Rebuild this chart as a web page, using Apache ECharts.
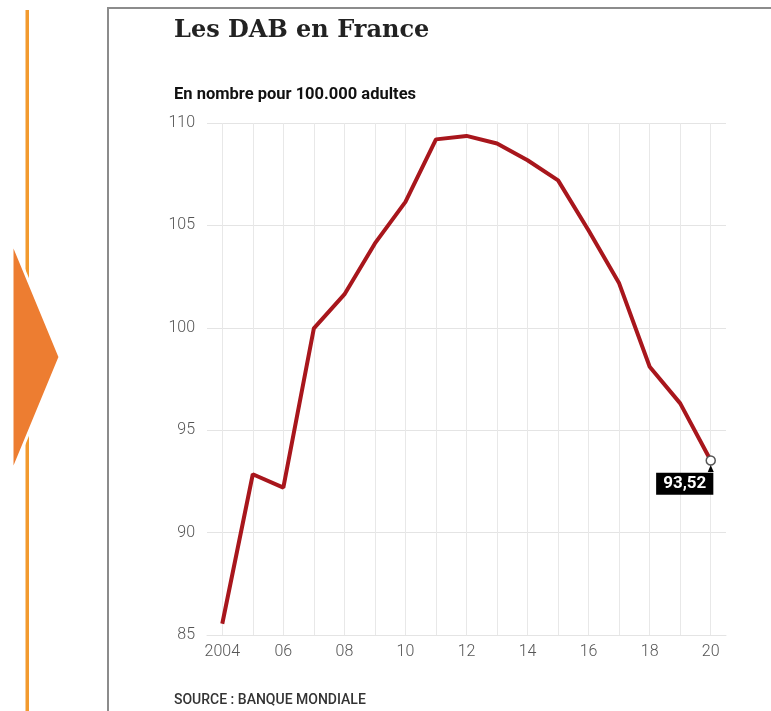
<!DOCTYPE html>
<html>
<head>
<meta charset="utf-8">
<title>Les DAB en France</title>
<script src="https://cdn.jsdelivr.net/npm/echarts@6/dist/echarts.min.js"></script>
<style>
  html, body { margin: 0; padding: 0; background: #fff; }
  #chart { width: 771px; height: 711px; }
</style>
</head>
<body>
<div id="chart"></div>
<script type="text/javascript">
// annees et nombre de DAB pour 100.000 adultes (Banque mondiale)
var years = [2004, 2005, 2006, 2007, 2008, 2009, 2010, 2011, 2012, 2013, 2014, 2015, 2016, 2017, 2018, 2019, 2020];
var dab = [85.55, 92.85, 92.2, 99.97, 101.63, 104.12, 106.15, 109.2, 109.37, 109.0, 108.18, 107.2, 104.75, 102.17, 98.1, 96.31, 93.52];
var yTicks = [85, 90, 95, 100, 105, 110];

var lastIdx = dab.length - 1;

var seriesData = dab.map(function (v, i) {
  if (i !== lastIdx) {
    return { value: v, symbol: 'none' };
  }
  return {
    value: v,
    symbol: 'circle',
    symbolSize: 9,
    itemStyle: { color: '#fff', borderColor: '#555', borderWidth: 1.5 },
    label: {
      show: true,
      position: 'bottom',
      distance: 7,
      offset: [-26, 0],
      formatter: String(v).replace('.', ','),
      color: '#fff',
      backgroundColor: '#000',
      fontFamily: 'Roboto',
      fontWeight: 'bold',
      fontSize: 17,
      lineHeight: 18,
      padding: [2, 7, 2, 7]
    }
  };
});

var myChart = echarts.init(document.getElementById('chart'));
var option = {
  animation: false,
  title: [
    {
      text: 'Les DAB en France',
      left: 169,
      top: 14,
      textStyle: { fontFamily: 'DejaVu Serif', fontWeight: 'bold', fontSize: 24, color: '#222' }
    },
    {
      text: 'En nombre pour 100.000 adultes',
      left: 169,
      top: 81,
      textStyle: { fontFamily: 'Roboto', fontWeight: 'bold', fontSize: 16.5, color: '#111' }
    },
    {
      text: 'SOURCE : BANQUE MONDIALE',
      left: 169,
      top: 688,
      textStyle: { fontFamily: 'Roboto', fontWeight: 500, fontSize: 14, color: '#333' }
    }
  ],
  graphic: [
    {
      type: 'rect',
      shape: { x: 25.5, y: 10, width: 3.5, height: 701 },
      style: { fill: '#f29a2e' },
      z: 1
    },
    {
      type: 'polygon',
      shape: { points: [[12, 241], [60, 357], [12, 473]] },
      style: { fill: '#ed7d31', stroke: '#fff', lineWidth: 3 },
      z: 2
    },
    {
      type: 'polyline',
      shape: { points: [[108, 711], [108, 8], [771, 8]] },
      style: { stroke: '#8c8c8c', lineWidth: 2, fill: null },
      z: 1
    }
  ],
  grid: {
    left: 207,
    right: 45,
    top: 123,
    bottom: 76
  },
  xAxis: {
    type: 'category',
    boundaryGap: true,
    data: years,
    axisLine: { lineStyle: { color: '#e4e4e4', width: 1 } },
    axisTick: { show: false },
    axisLabel: {
      interval: 1,
      margin: 9,
      color: '#555',
      fontFamily: 'Roboto',
      fontWeight: 300,
      fontSize: 16,
      formatter: function (v, i) {
        return i === 0 ? String(v) : String(v).slice(2);
      }
    },
    splitLine: {
      show: true,
      alignWithLabel: true,
      interval: 0,
      lineStyle: { color: '#e8e8e8', width: 1 }
    }
  },
  yAxis: {
    type: 'value',
    min: yTicks[0],
    max: yTicks[yTicks.length - 1],
    interval: 5,
    axisLine: { show: false },
    axisTick: { show: false },
    axisLabel: {
      margin: 12,
      color: '#555',
      fontFamily: 'Roboto',
      fontWeight: 300,
      fontSize: 16
    },
    splitLine: { lineStyle: { color: '#e4e4e4', width: 1 } }
  },
  series: [
    {
      name: 'DAB',
      type: 'line',
      data: seriesData,
      showSymbol: true,
      lineStyle: { color: '#a8161c', width: 4 },
      itemStyle: { color: '#a8161c' },
      z: 3,
      markPoint: {
        silent: true,
        symbol: 'triangle',
        symbolSize: [6, 7],
        symbolOffset: [0, 8],
        itemStyle: { color: '#000' },
        label: { show: false },
        data: [{ coord: [lastIdx, dab[lastIdx]] }]
      }
    }
  ]
};
myChart.setOption(option);
</script>
</body>
</html>
